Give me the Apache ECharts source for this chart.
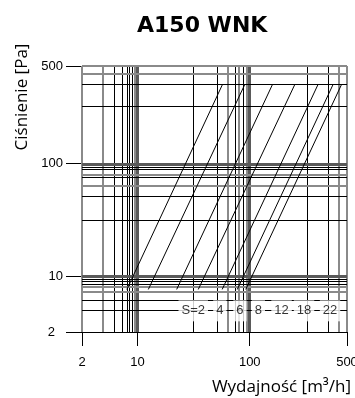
<!DOCTYPE html>
<html>
<head>
<meta charset="utf-8">
<script src="https://cdn.jsdelivr.net/npm/echarts@6/dist/echarts.min.js"></script>
<style>
  html, body { margin: 0; padding: 0; background: #fff; }
  #chart { width: 355px; height: 398px; }
</style>
</head>
<body>
<div id="chart"></div>
<script>
// ---- Axis scale of the original chart (a non-uniform "log-like" scale) ----
const scaleKnotValues = [2, 3, 4, 5, 6, 7, 8, 9, 10, 20, 30, 40, 50, 60, 70, 80, 90, 100, 200, 300, 400, 500];
const scaleKnotFractions = [0, 0.083, 0.124, 0.152, 0.171, 0.184, 0.194, 0.202, 0.2097, 0.4245, 0.510, 0.5475, 0.5775, 0.5935, 0.6065, 0.617, 0.625, 0.633, 0.849, 0.932, 0.971, 1];

// ---- Tick labels / grid values ----
const majorTicks = [2, 10, 100, 500];
const gridValues = [2, 3, 4, 5, 6, 7, 8, 9, 10, 20, 30, 40, 50, 60, 70, 80, 90, 100, 200, 300, 400, 500];

// ---- Series: S curves, each a straight segment from (flowLow, pressureLow) to (flowHigh, pressureHigh) ----
const sNames = ['2', '4', '6', '8', '12', '18', '22'];
const flowAtLowPressure = [5.9, 11.4, 16.1, 21.4, 34.7, 55.1, 81.2];
const flowAtHighPressure = [35.2, 78, 132, 173, 246, 338, 429];
const pressureLow = 5.4;
const pressureHigh = 300;

// ---- S label anchors (flow, pressure) ----
const sLabelTexts = ['S=2', '4', '6', '8', '12', '18', '22'];
const sLabelFlows = [19.7, 32.4, 61.8, 111, 147, 193, 309];
const sLabelPressure = 2.95;

// ---- styles (separate from data) ----
const STY = {
  k: { color: '#000', width: 1 },
  g: { color: '#8a8a8a', width: 2 },
  M: { color: '#5a5a5a', width: 3 }
};
const xGridStyle = {2:'g',3:'g',4:'k',5:'k',6:'k',7:'k',8:'k',9:'g',10:'M',20:'k',30:'k',40:'g',50:'k',60:'g',70:'k',80:'g',90:'k',100:'M',200:'k',300:'k',400:'g',500:'g'};
const yGridStyle = {2:'k',3:'k',4:'k',5:'g',6:'g',7:'k',8:'k',9:'k',10:'M',20:'k',30:'k',40:'g',50:'k',60:'g',70:'k',80:'k',90:'k',100:'M',200:'k',300:'k',400:'g',500:'g'};

function warp(v) {
  const lv = Math.log10(v);
  for (let i = 0; i < scaleKnotValues.length - 1; i++) {
    const a = scaleKnotValues[i], b = scaleKnotValues[i + 1];
    if (v <= b || i === scaleKnotValues.length - 2) {
      const t = (lv - Math.log10(a)) / (Math.log10(b) - Math.log10(a));
      return scaleKnotFractions[i] + t * (scaleKnotFractions[i + 1] - scaleKnotFractions[i]);
    }
  }
  return 1;
}
function tickLabel(u) {
  let best = majorTicks[0], d = Infinity;
  majorTicks.forEach(t => { const dd = Math.abs(warp(t) - u); if (dd < d) { d = dd; best = t; } });
  return String(best);
}

const FONT = 'Liberation Sans, Arial, sans-serif';
const tickPos = majorTicks.map(warp);

const gridSeries = {
  type: 'line', data: [], silent: true, z: 1,
  markLine: {
    z: 1, silent: true, symbol: ['none', 'none'], animation: false,
    label: { show: false },
    emphasis: { disabled: true },
    data: [
      ...gridValues.map(v => ({ xAxis: warp(v), lineStyle: Object.assign({ type: 'solid' }, STY[xGridStyle[v]]) })),
      ...gridValues.map(v => ({ yAxis: warp(v), lineStyle: Object.assign({ type: 'solid' }, STY[yGridStyle[v]]) }))
    ]
  }
};

const curveSeries = sNames.map((s, i) => ({
  name: 'S=' + s, type: 'line', z: 3, silent: true, showSymbol: false, animation: false,
  lineStyle: { color: '#000', width: 1 },
  data: [[warp(flowAtLowPressure[i]), warp(pressureLow)], [warp(flowAtHighPressure[i]), warp(pressureHigh)]]
}));

const labelSeries = {
  type: 'scatter', z: 6, silent: true, symbolSize: 0, animation: false,
  data: sLabelTexts.map((t, i) => ({ value: [warp(sLabelFlows[i]), warp(sLabelPressure)], name: t })),
  label: {
    show: true, position: 'inside', formatter: p => p.name,
    color: '#000', fontFamily: FONT, fontSize: 13,
    backgroundColor: '#fff', padding: [4, 3]
  }
};

const chart = echarts.init(document.getElementById('chart'), null, { renderer: 'canvas' });
chart.setOption({
  animation: false,
  backgroundColor: '#fff',
  title: {
    text: 'A150 WNK', left: 132, top: 10,
    textStyle: { fontFamily: 'DejaVu Sans', fontWeight: 'bold', fontSize: 22, color: '#000' }
  },
  grid: { left: 82, right: 8, top: 66, bottom: 66, containLabel: false, outerBoundsMode: 'none' },
  xAxis: {
    type: 'value', min: 0, max: 1,
    name: 'Wydajność [m³/h]', nameLocation: 'end', nameGap: 4,
    nameTextStyle: { fontFamily: 'Open Sans', fontSize: 17, color: '#000', align: 'right', verticalAlign: 'top', padding: [47, 0, 0, 0] },
    axisLine: { show: false },
    splitLine: { show: false },
    axisTick: { show: true, customValues: tickPos, length: 14, lineStyle: { color: '#000', width: 1 } },
    axisLabel: { customValues: tickPos, formatter: v => tickLabel(v), margin: 24, color: '#000', fontFamily: FONT, fontSize: 13 }
  },
  yAxis: {
    type: 'value', min: 0, max: 1,
    name: 'Ciśnienie [Pa]', nameLocation: 'middle', nameRotate: 90, nameGap: 45,
    nameTextStyle: { fontFamily: 'Open Sans', fontSize: 17, color: '#000', padding: [0, 0, 0, 204] },
    axisLine: { show: false },
    splitLine: { show: false },
    axisTick: { show: true, customValues: tickPos, length: 16, lineStyle: { color: '#000', width: 1 } },
    axisLabel: {
      customValues: tickPos, margin: 19, color: '#000', fontFamily: FONT, fontSize: 13,
      formatter: v => { const s = tickLabel(v); return s === '2' ? '{p|2}' : s; },
      rich: { p: { fontFamily: FONT, fontSize: 13, color: '#000', padding: [0, 8, 0, 0] } }
    }
  },
  series: [gridSeries, ...curveSeries, labelSeries]
});
</script>
</body>
</html>
